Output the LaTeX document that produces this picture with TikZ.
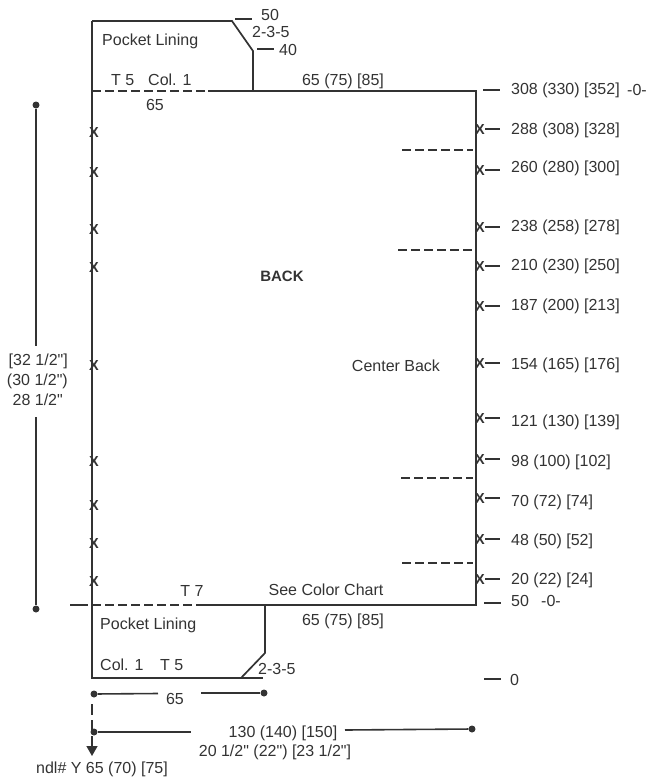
\documentclass[tikz,border=0pt]{standalone}
\usepackage{fontspec}
\newfontfamily\labfont{Liberation Sans}
\usetikzlibrary{arrows.meta}
\definecolor{ink}{gray}{0.2}
\tikzset{
 x=1pt,y=-1pt,
 lab/.style={inner sep=0pt,text=ink,font=\labfont\fontsize{16}{18}\selectfont},
 rlab/.style={lab,anchor=west},
 thick line/.style={draw=ink,line width=1.7pt},
 mid line/.style={draw=ink,line width=1.6pt},
 dash line/.style={draw=ink,line width=1.6pt,dash pattern=on 9pt off 4pt},
 thin dash/.style={draw=ink,line width=1.3pt,dash pattern=on 9pt off 4pt},
 mark x/.style={inner sep=0pt,text=ink,font=\labfont\bfseries\fontsize{14.5}{16}\selectfont},
 dotend/.style={circle,fill=ink,inner sep=0pt,minimum size=7pt},
}
\begin{document}
\begin{tikzpicture}
\useasboundingbox (0,0) rectangle (647,780);
% body outline
\coordinate (tl) at (92,91); \coordinate (pt) at (253,91); \coordinate (tr) at (476,91);
\coordinate (br) at (476,605); \coordinate (pb) at (265,605); \coordinate (bl) at (92,605);
\coordinate (ds) at (208,91); \coordinate (db) at (205,605);
\draw[thick line,line join=miter] (ds) -- (tr) -- (br) -- (db);
\draw[dash line] (tl) -- (ds);
\draw[dash line] (bl) -- (db);
\draw[thick line] (92,21) -- (bl);
% top pocket
\coordinate (p1) at (92,21); \coordinate (p2) at (232,21); \coordinate (p3) at (253,51);
\draw[thick line] (p1) -- (p2) -- (p3) -- (pt);
% bottom pocket
\coordinate (q1) at (92,678); \coordinate (q2) at (241,678); \coordinate (q3) at (265,653);
\draw[thick line] (bl) -- (q1) -- (q2) -- (q3) -- (pb);
\draw[mid line] (q2) -- (263,678);
% pocket text
\node[rlab] (pl1) at (102,41) {Pocket Lining};
\node[rlab] (t5) at (111,80) {T 5};
\node[rlab] (col1) at (148,80) {Col. 1};
\node[lab] (n65a) at (155,105) {65};
\node[lab] (n65b) at (343,81) {65 (75) [85]};
\node[rlab] (n50) at (261,15) {50};
\node[rlab] (n235) at (252,32) {2-3-5};
\node[rlab] (n40) at (279,50) {40};
\coordinate (a50) at (235,19); \coordinate (b50) at (252,19);
\draw[mid line] (a50) -- (b50);
\coordinate (a40) at (257,49); \coordinate (b40) at (274,49);
\draw[mid line] (a40) -- (b40);
\node[lab,font=\labfont\bfseries\fontsize{15}{16}\selectfont] (back) at (282,276) {BACK};
\node[lab] (cb) at (396,366) {Center Back};
\node[lab] (t7) at (192,591) {T 7};
\node[lab] (scc) at (326,590) {See Color Chart};
\node[lab] (n65c) at (343,621) {65 (75) [85]};
\node[rlab] (pl2) at (100,625) {Pocket Lining};
\node[rlab] (c1b) at (100,665) {Col. 1};
\node[rlab] (t5b) at (160,665) {T 5};
\node[rlab] (n235b) at (258,669) {2-3-5};
% left dimension
\node[dotend] (d1) at (36,105) {};
\node[dotend] (d2) at (36,609) {};
\coordinate (d1e) at (36,346); \coordinate (d2e) at (36,417);
\draw[mid line] (d1) -- (d1e);
\draw[mid line] (d2e) -- (d2);
\node[lab,anchor=east] (dima) at (68,361) {[32 1/2"]};
\node[lab,anchor=east] (dimb) at (68,381) {(30 1/2")};
\node[lab,anchor=east] (dimc) at (63,400) {28 1/2"};
\coordinate (s1) at (70,605); \coordinate (s2) at (88,605);
\draw[mid line] (s1) -- (s2);
% left X marks
\foreach \y/\n in {133/a,173/b,230/c,268/d,366/e,462/f,506/g,544/h,582/i}
  \node[mark x] (lx\n) at (94,\y) {X};
% right labels with tick and X: tick y / text y
\foreach \yt/\yl/\t/\n in {129/130/288 (308) [328]/a,170/168/260 (280) [300]/b,227/227/238 (258) [278]/c,266/266/210 (230) [250]/d,
  306/306/187 (200) [213]/e,363/365/154 (165) [176]/f,418/422/121 (130) [139]/g,459/462/98 (100) [102]/h,
  498/502/70 (72) [74]/i,539/541/48 (50) [52]/j,579/580/20 (22) [24]/l}{
  \node[rlab] (r\n) at (511,\yl) {\t};
  \node[mark x] (rx\n) at (480,\yt+1) {X};
  \coordinate (re\n) at (500,\yt);
  \draw[mid line] (rx\n.east |- re\n) -- (re\n);
}
\node[rlab] (r0) at (511,90) {308 (330) [352]};
\node[rlab] (r00) at (627,90) {-0-};
\coordinate (u1) at (483,90); \coordinate (u2) at (500,90);
\draw[mid line] (u1) -- (u2);
\node[rlab] (r50) at (511,601) {50};
\node[rlab] (r500) at (541,601) {-0-};
\coordinate (v1) at (484,603); \coordinate (v2) at (501,603);
\draw[mid line] (v1) -- (v2);
\node[rlab] (rz) at (510,680) {0};
\coordinate (w1) at (484,679); \coordinate (w2) at (501,679);
\draw[mid line] (w1) -- (w2);
% inner dashes
\foreach \xa/\y in {402/150,398/250,401/478,402/563}
  \draw[thin dash] (\xa,\y) -- (473,\y);
% lower dims
\node[dotend] (e1) at (94,694) {};
\node[dotend] (e2) at (264,693) {};
\node[lab] (n65d) at (175,699) {65};
\coordinate (e1r) at (158,693.5); \coordinate (e2l) at (201,693);
\draw[mid line] (e1) -- (e1r);
\draw[mid line] (e2l) -- (e2);
\node[dotend] (f1) at (94,732) {};
\node[dotend] (f2) at (472,729) {};
\coordinate (f1r) at (191,732); \coordinate (f2l) at (345,730);
\draw[mid line] (f1) -- (f1r);
\draw[mid line] (f2l) -- (f2);
\node[lab] (n130) at (283,733) {130 (140) [150]};
\node[lab] (n20) at (275,752) {20 1/2" (22") [23 1/2"]};
\coordinate (g1) at (92,704); \coordinate (g2) at (92,756);
\draw[draw=ink,line width=1.4pt,dash pattern=on 11pt off 5pt,-{Triangle[length=10pt,width=11pt]}] (g1) -- (g2);
\node[lab] (ndl) at (102,769) {ndl\# Y 65 (70) [75]};
\end{tikzpicture}
\end{document}
